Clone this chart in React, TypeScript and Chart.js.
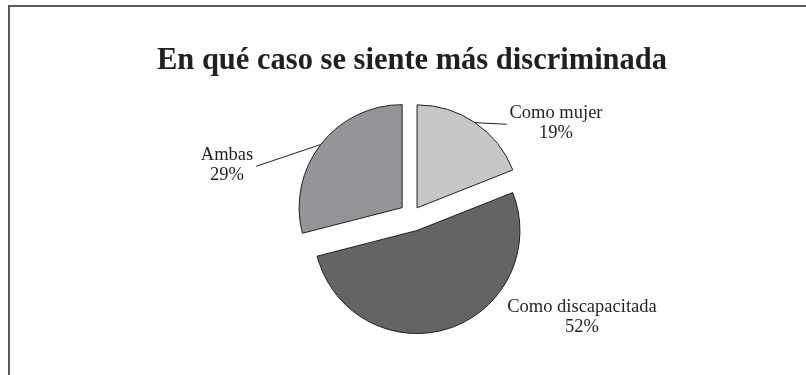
import React, { useEffect, useRef } from 'react';
import { Chart, registerables } from 'chart.js';

Chart.register(...registerables);

// ---- data ----
const titleText = 'En qué caso se siente más discriminada';
const categories = ['Como mujer', 'Como discapacitada', 'Ambas'];
const percentages = [19, 52, 29];

// ---- styles / placement (not data) ----
const sliceColors = ['#c6c7c9', '#636466', '#939598'];
const explodeDistances = [9, 16, 12.5];
// label anchor (midpoint between the two text baselines), relative to pie centre, in radii
const labelOffsets = [
  [1.398, -0.845],
  [1.65, 1.034],
  [-1.796, -0.437],
];
const showLeader = [true, false, true];
const PIE_RADIUS = 103;
const INK = '#231f20';
const LABEL_FONT = '18.5px "Liberation Serif", "Times New Roman", serif';
const LINE_GAP = 20;

const explodePlugin = {
  id: 'explodeSlices',
  afterDatasetsUpdate(chart: any) {
    const meta = chart.getDatasetMeta(0);
    meta.data.forEach((arc: any, i: number) => {
      const mid = (arc.startAngle + arc.endAngle) / 2;
      const d = explodeDistances[i] || 0;
      arc.x += Math.cos(mid) * d;
      arc.y += Math.sin(mid) * d;
    });
  },
};

const labelPlugin = {
  id: 'sliceLabels',
  afterDatasetsDraw(chart: any) {
    const { ctx, chartArea } = chart;
    const cx = (chartArea.left + chartArea.right) / 2;
    const cy = (chartArea.top + chartArea.bottom) / 2;
    const meta = chart.getDatasetMeta(0);
    ctx.save();
    ctx.font = LABEL_FONT;
    ctx.fillStyle = INK;
    ctx.strokeStyle = INK;
    ctx.lineWidth = 1;
    ctx.textAlign = 'center';
    ctx.textBaseline = 'alphabetic';
    meta.data.forEach((arc: any, i: number) => {
      const R = arc.outerRadius;
      const [ox, oy] = labelOffsets[i];
      const bx = cx + ox * R;
      const by = cy + oy * R;
      const lines = [categories[i], percentages[i] + '%'];
      const widths = lines.map((l) => ctx.measureText(l).width);
      const half = Math.max(...widths) / 2;
      ctx.fillText(lines[0], bx, by - LINE_GAP / 2);
      ctx.fillText(lines[1], bx, by + LINE_GAP / 2);
      if (showLeader[i]) {
        const mid = (arc.startAngle + arc.endAngle) / 2;
        const sx = arc.x + Math.cos(mid) * R;
        const sy = arc.y + Math.sin(mid) * R;
        const ex = sx < bx ? bx - half - 3 : bx + half + 3;
        const ey = by - 4;
        ctx.beginPath();
        ctx.moveTo(sx, sy);
        ctx.lineTo(ex, ey);
        ctx.stroke();
      }
    });
    ctx.restore();
  },
};

export default function App() {
  const ref = useRef<HTMLCanvasElement | null>(null);
  useEffect(() => {
    if (!ref.current) return;
    const chart = new Chart(ref.current, {
      type: 'pie',
      data: {
        labels: categories,
        datasets: [
          {
            data: percentages,
            backgroundColor: sliceColors,
            borderColor: INK,
            borderWidth: 1,
          },
        ],
      },
      options: {
        animation: false,
        responsive: false,
        radius: PIE_RADIUS,
        rotation: 0,
        layout: { padding: { left: 18, right: 0, top: 0, bottom: 24 } },
        plugins: {
          legend: { display: false },
          tooltip: { enabled: false },
          title: {
            display: true,
            text: titleText,
            color: INK,
            font: { family: '"Liberation Serif", "Times New Roman", serif', size: 30.5, weight: 'bold', lineHeight: 1.2 },
            padding: { top: 43, bottom: 0 },
          },
        },
      } as any,
      plugins: [explodePlugin, labelPlugin],
    });
    return () => chart.destroy();
  }, []);

  return (
    <div style={{ position: 'fixed', left: 0, top: 0, width: 806, height: 375, background: '#fff' }}>
      <canvas ref={ref} width={806} height={375} style={{ position: 'absolute', left: 0, top: 0, width: 806, height: 375 }} />
      <div
        style={{
          position: 'absolute',
          left: 8,
          top: 5,
          width: 798,
          height: 370,
          borderLeft: '2px solid #5a5a5a',
          borderTop: '2px solid #5a5a5a',
          boxSizing: 'border-box',
          pointerEvents: 'none',
        }}
      />
    </div>
  );
}
